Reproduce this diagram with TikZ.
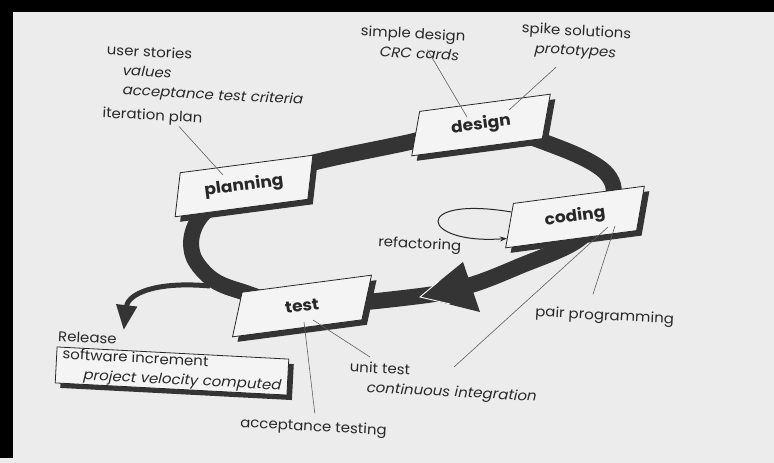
\documentclass[tikz,border=0pt]{standalone}
\usepackage{fontspec}
\setmainfont{Poppins}[FakeStretch=1.07]
\usetikzlibrary{arrows.meta,shapes.geometric,shadows,backgrounds}

\definecolor{paper}{RGB}{236,236,236}
\definecolor{card}{RGB}{244,244,244}
\definecolor{ink}{RGB}{40,40,40}
\definecolor{ribbon}{RGB}{52,52,52}
\definecolor{leadgray}{RGB}{95,95,95}

\tikzset{
  phase/.style={trapezium, trapezium left angle=68, trapezium right angle=112,
    trapezium stretches=true, minimum width=146pt, minimum height=43pt,
    inner sep=0pt, draw=ink, line width=0.8pt, fill=card, text=ink, rotate=7.5,
    font=\fontsize{16}{19}\selectfont\bfseries,
    drop shadow={opacity=1, fill=ribbon, shadow xshift=5pt, shadow yshift=-5pt}},
  relbox/.style={rectangle, draw=ink, line width=0.8pt, fill=card, text=ink,
    rotate=-3, minimum width=232pt, minimum height=36pt, inner sep=1pt, align=left,
    font=\fontsize{14}{19.6}\selectfont,
    drop shadow={opacity=1, fill=ribbon, shadow xshift=5pt, shadow yshift=-5pt}},
  note/.style={font=\fontsize{14}{19.6}\selectfont, text=ink, inner sep=0pt,
    align=left, rotate=-3},
  leader/.style={draw=leadgray, line width=0.6pt},
  band/.style={draw=ribbon, line width=16pt},
}

\begin{document}
\begin{tikzpicture}[x=1pt,y=-1pt]
\useasboundingbox (0,0) rectangle (774,463);
\begin{scope}[on background layer]
\fill[paper] (0,0) rectangle (774,463);
\end{scope}

% the four phases
\node[phase] (planning) at (244,186) {planning};
\node[phase] (design) at (481,125) {design};
\node[phase] (coding) at (575,217) {coding};
\node[phase] (test) at (302,306) {test};

% release
\node[note, anchor=west] (release) at (58,336) {Release};
\node[relbox] (increment) at (172,371) {software increment\\\hspace*{22pt}\textit{project velocity computed}};

% notes
\node[note, anchor=north west] (plantxt) at (106,44) {\hspace*{1pt}user stories\\
  \hspace*{18pt}\textit{values}\\ \hspace*{19pt}\textit{acceptance test criteria}\\[4pt]
  iteration plan};
\node[note, anchor=north west] (designtxt) at (361,25) {simple design\\
  \hspace*{20pt}\textit{CRC cards}};
\node[note, align=center] (spiketxt) at (576,42) {spike solutions\\\textit{prototypes}};
\node[note, anchor=west] (pair) at (535,313) {pair programming};
\node[note, anchor=north west] (unittxt) at (350,361) {unit test\\
  \hspace*{18pt}\textit{continuous integration}};
\node[note, anchor=west] (accept) at (240,424) {acceptance testing};

% the cycle
\begin{scope}[on background layer]
\draw[band] plot[smooth cycle, tension=0.55] coordinates {(planning.center) (312,163)
  (410,142) (design.center) (560,148) (605,172) (612,200) (578,240) (520,266)
  (471,285) (420,296) (test.center) (240,291) (212,279) (194,258) (192,235) (205,212)};
\end{scope}
\fill[ribbon] (420,297) -- (463,262) -- (480,312) -- cycle;
\draw[white, line width=0.9pt] (439,281) -- (420,297) -- (450,304);

\coordinate (fork) at (210,286);
\draw[ribbon, line width=5pt, -{Triangle[width=20pt,length=25pt]}]
  (fork) .. controls (155,281) and (128,294) .. ([shift={(36,-2)}]release.north);

\draw[ink, line width=1pt, -{Stealth[length=7pt,width=5pt]}]
  (coding.168) .. controls (410,195) and (420,245) .. (coding.190);
\node[note, anchor=west] (refactor) at (378,243) {refactoring};

% leaders
\draw[leader] ([shift={(77,5)}]plantxt.south west) -- ([shift={(-21,-11)}]planning.center);
\draw[leader] ([shift={(68,-6)}]designtxt.south west) -- ([shift={(-14,-8)}]design.center);
\draw[leader] ([shift={(-19,8)}]spiketxt.south) -- ([shift={(28,-15)}]design.center);
\draw[leader] ([shift={(-12,-15)}]pair.north) -- ([shift={(40,9)}]coding.center);
\draw[leader] ([shift={(104,6)}]unittxt.north west) -- ([shift={(33,10)}]coding.center);
\draw[leader] ([shift={(20,-4)}]unittxt.north west) -- ([shift={(11,14)}]test.center);
\draw[leader] ([shift={(1,-7)}]accept.north) -- ([shift={(2,16)}]test.center);

% scan edges
\fill[black] (0,0) rectangle (774,12);
\fill[black] (0,0) rectangle (13,458);
\end{tikzpicture}
\end{document}
